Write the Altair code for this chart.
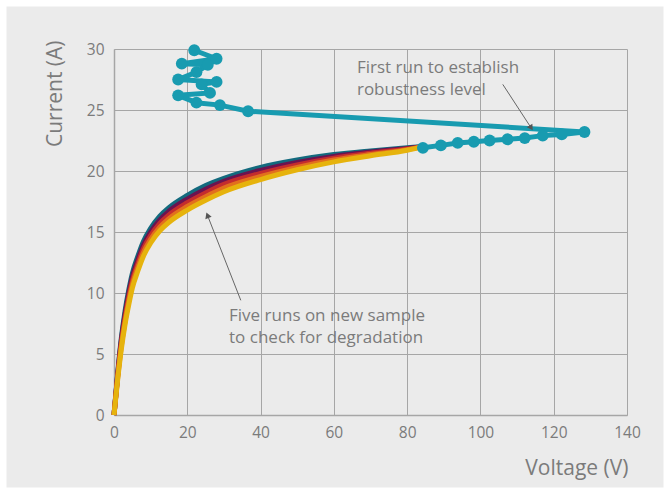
import altair as alt
import pandas as pd

# ---- Five I-V sweeps on the new sample (voltage V, current A) ----
sweep_v = [0, 1, 2, 3, 4, 5, 6.5, 8, 10, 12.5, 15, 20, 25, 30, 40, 50, 60, 70, 80, 84.3]

run1_a = [0, 3.4, 6.3, 8.5, 10.2, 11.6, 13.0, 14.2, 15.3, 16.3, 17.0, 18.0, 18.8, 19.4, 20.3, 20.9, 21.35, 21.65, 21.9, 22.0]
run2_a = [0, 3.3, 6.1, 8.2, 9.9, 11.3, 12.7, 13.9, 15.0, 16.0, 16.7, 17.7, 18.5, 19.15, 20.05, 20.7, 21.2, 21.55, 21.85, 22.0]
run3_a = [0, 3.2, 5.9, 7.9, 9.6, 11.0, 12.4, 13.6, 14.7, 15.7, 16.4, 17.4, 18.2, 18.9, 19.8, 20.5, 21.05, 21.45, 21.8, 22.0]
run4_a = [0, 3.05, 5.65, 7.65, 9.3, 10.7, 12.1, 13.3, 14.4, 15.4, 16.1, 17.1, 17.9, 18.6, 19.55, 20.3, 20.9, 21.35, 21.75, 22.0]
run5_a = [0, 2.9, 5.4, 7.4, 9.0, 10.4, 11.8, 13.0, 14.1, 15.1, 15.8, 16.8, 17.6, 18.3, 19.3, 20.1, 20.75, 21.25, 21.7, 22.0]

run_names = ["Run 1", "Run 2", "Run 3", "Run 4", "Run 5"]
run_colors = ["#136a7e", "#6b1350", "#c42c2e", "#e2701d", "#e6b30d"]

# ---- First run used to establish the robustness level ----
first_v = [21.9, 28.0, 18.5, 25.6, 22.5, 17.5, 28.0, 23.9, 26.2, 17.5, 22.5, 28.9, 36.6,
           128.4, 122.2, 117.0, 112.1, 107.4, 102.5, 98.2, 93.8, 89.2, 84.3]
first_a = [29.9, 29.2, 28.8, 28.7, 28.1, 27.5, 27.3, 27.1, 26.4, 26.2, 25.6, 25.4, 24.9,
           23.2, 23.0, 22.9, 22.7, 22.6, 22.5, 22.4, 22.3, 22.1, 21.9]
first_color = "#189bb0"

# ---- Annotations (data units) ----
note_lines = ["First run to establish", "robustness level",
              "Five runs on new sample", "to check for degradation"]
note_v = [66.3, 66.3, 31.4, 31.4]
note_a = [28.45, 26.65, 8.1, 6.3]

arrow_v = [106.1, 34.6]
arrow_a = [27.1, 9.4]
arrow_v2 = [113.7, 25.6]
arrow_a2 = [23.6, 16.3]
arrow_angle = [147, 339]

GREY = "#7b7b7b"
FONT = "Open Sans"

x_scale = alt.Scale(domain=[0, 140], nice=False)
y_scale = alt.Scale(domain=[0, 30], nice=False)

x_axis = alt.Axis(values=[0, 20, 40, 60, 80, 100, 120, 140], title="Voltage (V)",
                  labelFlush=False,
                  titleAlign="right", titleBaseline="middle", titleX=514, titleY=53)
y_axis = alt.Axis(values=[0, 5, 10, 15, 20, 25, 30], title="Current (A)",
                  labelFlush=False,
                  titleAngle=270, titleAlign="right", titleBaseline="middle",
                  titleX=-59, titleY=-9)

X = alt.X("V:Q", scale=x_scale, axis=x_axis)
Y = alt.Y("A:Q", scale=y_scale, axis=y_axis)

layers = []
for name, color, amps in zip(run_names, run_colors, [run1_a, run2_a, run3_a, run4_a, run5_a]):
    df = pd.DataFrame({"V": sweep_v, "A": amps, "step": range(len(sweep_v)), "run": name})
    layers.append(
        alt.Chart(df).mark_line(strokeWidth=5, interpolate="monotone", color=color, clip=False)
        .encode(x=X, y=Y, order="step:Q")
    )

first_df = pd.DataFrame({"V": first_v, "A": first_a, "step": range(len(first_v))})
layers.append(
    alt.Chart(first_df).mark_line(strokeWidth=5, color=first_color, clip=False)
    .encode(x=X, y=Y, order="step:Q")
)
layers.append(
    alt.Chart(first_df).mark_circle(size=140, opacity=1, color=first_color, clip=False)
    .encode(x=X, y=Y)
)

arrow_df = pd.DataFrame({"V": arrow_v, "A": arrow_a, "V2": arrow_v2, "A2": arrow_a2,
                         "ang": arrow_angle})
layers.append(
    alt.Chart(arrow_df).mark_rule(color="#666666", strokeWidth=1)
    .encode(x=X, y=Y, x2="V2:Q", y2="A2:Q")
)
layers.append(
    alt.Chart(arrow_df).mark_point(shape="triangle", filled=True, size=45, color="#555555", opacity=1)
    .encode(x=alt.X("V2:Q", scale=x_scale), y=alt.Y("A2:Q", scale=y_scale),
            angle=alt.Angle("ang:Q", scale=None))
)

note_df = pd.DataFrame({"V": note_v, "A": note_a, "txt": note_lines})
layers.append(
    alt.Chart(note_df).mark_text(align="left", baseline="middle", fontSize=17, font=FONT, color=GREY)
    .encode(x=X, y=Y, text="txt:N")
)

# white frame around the grey panel
frame = alt.Chart(pd.DataFrame({"k": [0]})).mark_rect(
    fillOpacity=0, stroke="white", strokeWidth=13, clip=False
).encode(x=alt.value(-114), x2=alt.value(556), y=alt.value(-49), y2=alt.value(445))
layers.append(frame)

chart = alt.layer(*layers).properties(
    width=513, height=366,
    padding={"left": 114, "top": 49, "right": 43, "bottom": 79},
    autosize=alt.AutoSizeParams(type="none"),
    background="#ebebeb",
).configure_view(stroke=None).configure_axis(
    labelFont=FONT, labelFontSize=15.5, labelColor=GREY, labelPadding=10,
    titleFont=FONT, titleFontSize=21, titleColor=GREY, titleFontWeight="normal",
    gridColor="#a6a6a6", gridWidth=1, domainColor="#a6a6a6", domainWidth=1.5,
    ticks=False,
)

chart.save("out.html", embed_options={"renderer": "svg", "actions": False})
